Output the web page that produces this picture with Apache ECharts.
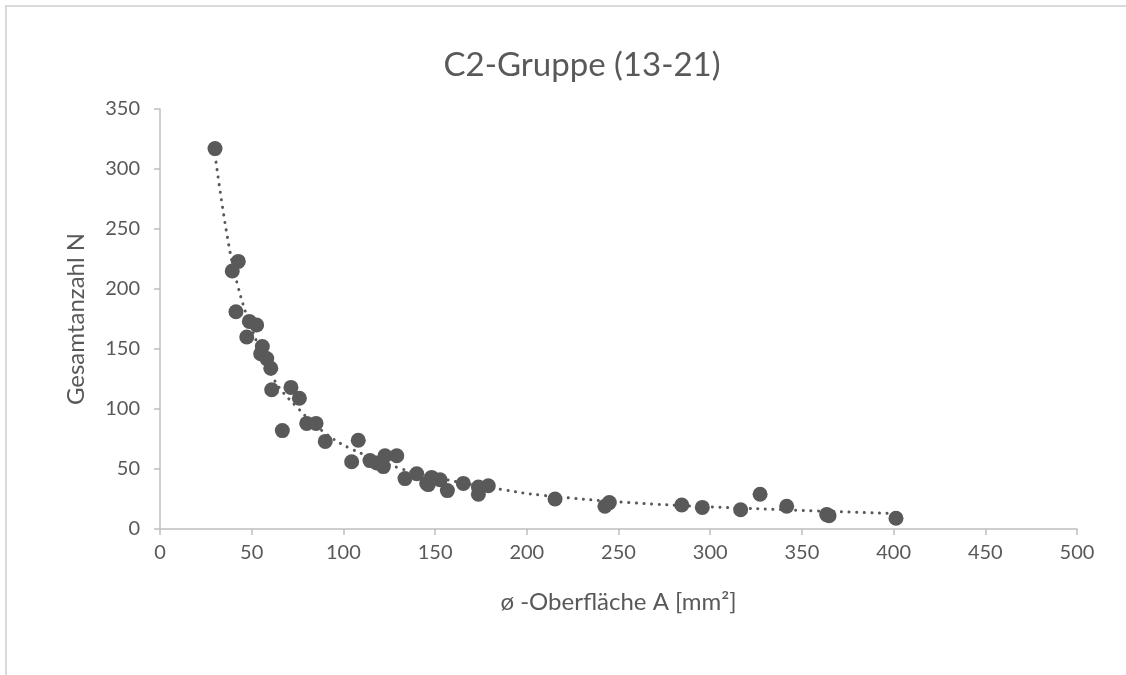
<!DOCTYPE html>
<html>
<head>
<meta charset="utf-8">
<script src="https://cdn.jsdelivr.net/npm/echarts@6/dist/echarts.min.js"></script>
<style>
  html, body { margin: 0; padding: 0; background: #fff; overflow: hidden; width: 1126px; height: 675px; }
  #frame {
    position: absolute; left: 5px; top: 5px; width: 1140px; height: 700px;
    border-left: 2px solid #d9d9d9; border-top: 2px solid #d9d9d9;
  }
  #chart { position: absolute; left: 0; top: 0; width: 1126px; height: 675px; }
</style>
</head>
<body>
<div id="frame"></div>
<div id="chart"></div>
<script>
// measured points (x = mean surface A in mm², y = total count N)
const surfaceA = [30.0, 42.7, 39.4, 41.4, 48.7, 52.7, 47.3, 55.8, 54.9, 58.2, 60.4, 60.9,
  71.4, 76.0, 66.7, 80.0, 85.1, 90.1, 108.1, 104.5, 114.5, 118.2, 122.7, 121.8, 129.1,
  133.6, 140.0, 145.4, 148.1, 152.7, 146.3, 156.7, 165.4, 173.6, 179.0, 173.6, 215.4,
  245.0, 242.6, 284.5, 295.7, 316.6, 327.2, 341.7, 363.5, 364.8, 401.3];
const countN = [317, 223, 215, 181, 173, 170, 160, 152, 146, 142, 134, 116,
  118, 109, 82, 88, 88, 73, 74, 56, 57, 55, 61, 52, 61,
  42, 46, 38, 43, 41, 37, 32, 38, 35, 36, 29, 25,
  22, 19, 20, 18, 16, 29, 19, 12, 11, 9];

// dotted trendline
const trendX = [30, 36, 42, 50, 62, 75, 90, 104, 130, 150, 186, 209, 256, 300, 350, 401];
const trendY = [312, 250, 205, 167, 125, 101, 80, 67, 51, 43, 33, 28, 22, 18.5, 15.5, 12.8];

const chart = echarts.init(document.getElementById('chart'));
const font = 'Lato, "Open Sans", sans-serif';
const grey = '#595959';

chart.setOption({
  animation: false,
  title: {
    text: 'C2-Gruppe (13-21)',
    left: 577, top: 44, textAlign: 'center',
    textStyle: { fontFamily: font, fontSize: 33, fontWeight: 'normal', color: grey }
  },
  grid: { left: 160, right: 49, top: 109, bottom: 146 },
  xAxis: {
    type: 'value', min: 0, max: 500, interval: 50,
    name: 'ø -Oberfläche A [mm²]', nameLocation: 'middle', nameGap: 61,
    nameTextStyle: { fontFamily: font, fontSize: 24, color: grey },
    axisLine: { show: true, lineStyle: { color: '#bfbfbf', width: 1.5 } },
    axisTick: { show: true, length: 6, lineStyle: { color: '#bfbfbf', width: 1.5 } },
    axisLabel: { fontFamily: font, fontSize: 20, color: grey, margin: 14 },
    splitLine: { show: false }
  },
  yAxis: {
    type: 'value', min: 0, max: 350, interval: 50,
    name: 'Gesamtanzahl N', nameLocation: 'middle', nameGap: 72, nameRotate: 90,
    nameTextStyle: { fontFamily: font, fontSize: 24, color: grey },
    axisLine: { show: true, lineStyle: { color: '#bfbfbf', width: 1.5 } },
    axisTick: { show: true, length: 6, lineStyle: { color: '#bfbfbf', width: 1.5 } },
    axisLabel: { fontFamily: font, fontSize: 20, color: grey, margin: 20 },
    splitLine: { show: false }
  },
  series: [
    {
      type: 'scatter',
      data: surfaceA.map((x, i) => [x, countN[i]]),
      symbolSize: 15,
      itemStyle: { color: grey, opacity: 1 },
      z: 2
    },
    {
      type: 'line',
      data: trendX.map((x, i) => [x, trendY[i]]),
      smooth: 0.4,
      showSymbol: false,
      lineStyle: { color: grey, width: 3, type: [0.1, 7.5], cap: 'round' },
      z: 3
    }
  ]
});
</script>
</body>
</html>
